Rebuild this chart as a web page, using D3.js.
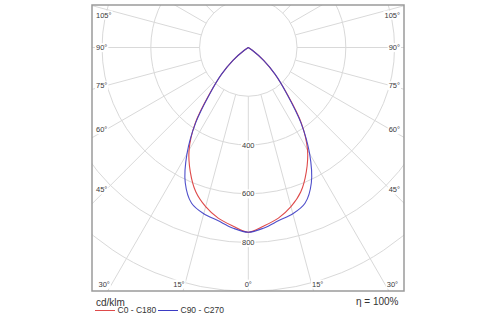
<!DOCTYPE html>
<html>
<head>
<meta charset="utf-8">
<script src="https://cdn.jsdelivr.net/npm/d3@7"></script>
<style>
html,body{margin:0;padding:0;background:#fff;}
svg{display:block;font-family:"Liberation Sans",Arial,sans-serif;}
</style>
</head>
<body>
<svg id="chart" width="500" height="325"></svg>
<script>
// ---- data ----
const gammaAngles = [0,5,10,15,20,25,30,35,40,45,50,55,60];
const c0c180     = [758,735,711,676,630,563,486,380,245,155,82,20,0];
const c90c270    = [758,743,721,706,680,612,503,376,242,156,82,20,0];
const gridValues = [200,400,600,800,1000,1200,1400];
const valueLabels = [400,600,800];
const sideLabelAngles = [105,90,75,60,45];
const bottomLabelAngles = [-30,-15,0,15,30];
const seriesNames = ["C0 - C180","C90 - C270"];
const unitLabel = "cd/klm";
const efficiencyLabel = "η = 100%";

// ---- layout ----
const svg = d3.select("#chart");
const frame = {x0:92, y0:5, x1:404, y1:291};
const cx = 248.3, cy = 47.5;
const r = d3.scaleLinear().domain([0,800]).range([0,195]);
const colors = ["#de4a4a","#3b3bc4"];
const rad = d => d*Math.PI/180;

svg.append("defs").append("clipPath").attr("id","frameClip")
  .append("rect").attr("x",frame.x0).attr("y",frame.y0)
  .attr("width",frame.x1-frame.x0).attr("height",frame.y1-frame.y0);

const grid = svg.append("g").attr("clip-path","url(#frameClip)");
grid.selectAll("circle.g").data(gridValues).join("circle")
  .attr("cx",cx).attr("cy",cy).attr("r",d=>r(d))
  .attr("fill","none").attr("stroke","#d9d9d9").attr("stroke-width",1);
const radials = d3.range(0,360,15);
grid.selectAll("line.rad").data(radials).join("line")
  .attr("x1",d=>cx - Math.sin(rad(d))*r(gridValues[0]))
  .attr("y1",d=>cy + Math.cos(rad(d))*r(gridValues[0]))
  .attr("x2",d=>cx - Math.sin(rad(d))*r(3000))
  .attr("y2",d=>cy + Math.cos(rad(d))*r(3000))
  .attr("stroke","#d9d9d9").attr("stroke-width",1);

function seriesPoints(vals){
  const pts = [];
  for(let i=gammaAngles.length-1;i>0;i--) pts.push([-gammaAngles[i], vals[i]]);
  for(let i=0;i<gammaAngles.length;i++) pts.push([gammaAngles[i], vals[i]]);
  return pts;
}
const radialLine = d3.lineRadial()
  .angle(d=>Math.PI - rad(d[0]))
  .radius(d=>r(d[1]))
  .curve(d3.curveCatmullRom.alpha(0.5));
const curves = svg.append("g").attr("transform",`translate(${cx},${cy})`);
[c0c180,c90c270].forEach((vals,i)=>{
  curves.append("path").attr("d",radialLine(seriesPoints(vals)))
    .attr("fill","none").attr("stroke",colors[i]).attr("stroke-width",1.1)
    .attr("stroke-opacity", i===1?0.9:1);
});

const labels = svg.append("g").attr("font-size",7.5);
function addLabel(text,x,y,anchor){
  const g = labels.append("g");
  const t = g.append("text").attr("x",x).attr("y",y).attr("text-anchor",anchor)
    .attr("dy","0.35em").attr("fill","#3a3a3a").text(text);
  const bb = t.node().getBBox();
  g.insert("rect","text").attr("x",bb.x-1).attr("y",bb.y).attr("width",bb.width+2)
    .attr("height",bb.height).attr("fill","#fff");
}
valueLabels.forEach(v=>addLabel(String(v), cx, cy + r(v), "middle"));
sideLabelAngles.forEach(a=>{
  const xL = 106;
  const t = (cx - xL)/Math.sin(rad(a));
  let y = cy + t*Math.cos(rad(a));
  y = Math.max(y, frame.y0+10);
  addLabel(a+"°", frame.x0+4, y, "start");
  addLabel(a+"°", frame.x1-4, y, "end");
});
bottomLabelAngles.forEach(a=>{
  const yB = 289;
  const x = cx + (yB-cy)*Math.tan(rad(a));
  const anchor = a<0?"end":(a>0?"start":"middle");
  const xx = a<0? x+1 : (a>0? x-1 : cx);
  addLabel(Math.abs(a)+"°", xx, 284, anchor);
});

svg.append("rect").attr("x",frame.x0).attr("y",frame.y0)
  .attr("width",frame.x1-frame.x0).attr("height",frame.y1-frame.y0)
  .attr("fill","none").attr("stroke","#9a9a9a").attr("stroke-width",1.5);

const lg = svg.append("g");
lg.append("text").attr("x",96).attr("y",302).attr("dy","0.35em")
  .attr("font-size",10).attr("fill","#333").text(unitLabel);
lg.append("text").attr("x",398.5).attr("y",301.5).attr("dy","0.35em")
  .attr("text-anchor","end").attr("font-size",10).attr("fill","#333").text(efficiencyLabel);
const legX = [95,158];
seriesNames.forEach((n,i)=>{
  lg.append("line").attr("x1",legX[i]).attr("x2",legX[i]+20).attr("y1",310.5).attr("y2",310.5)
    .attr("stroke",colors[i]).attr("stroke-width",1);
  lg.append("text").attr("x",legX[i]+22.5).attr("y",310.5).attr("dy","0.35em")
    .attr("font-size",8.5).attr("fill","#333").text(n);
});
</script>
</body>
</html>
